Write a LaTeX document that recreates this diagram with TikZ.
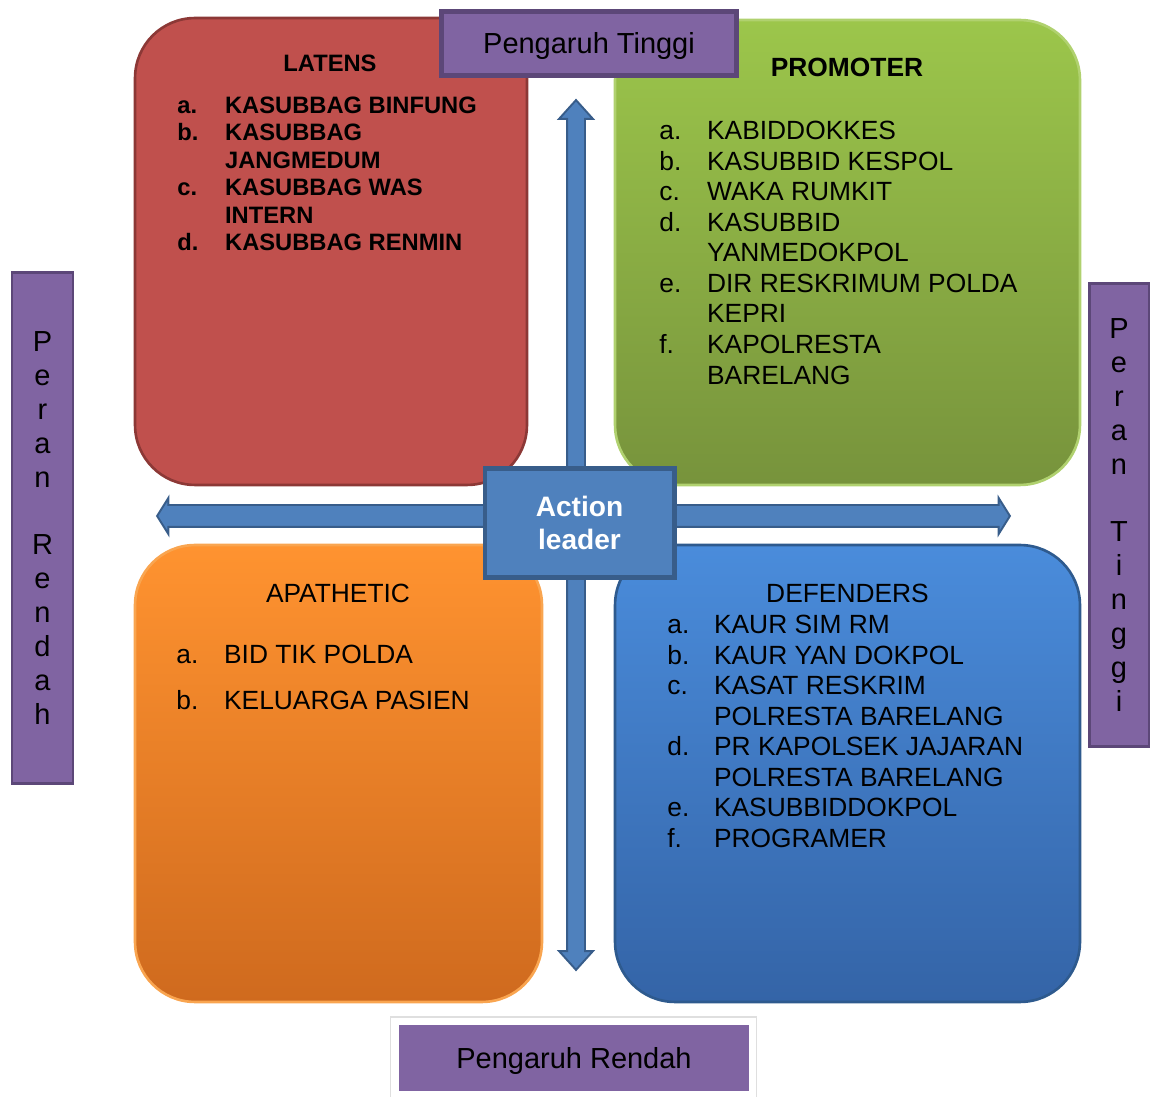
\documentclass[tikz,border=0pt]{standalone}
\usepackage{fontspec}
\setmainfont{Liberation Sans}
\usepackage{xcolor}
\usepackage{tikz}
\usetikzlibrary{shapes.arrows}

\definecolor{latensred}{HTML}{C0504D}
\definecolor{latensline}{HTML}{8C3836}
\definecolor{promtop}{HTML}{9CC64B}
\definecolor{prombot}{HTML}{77933C}
\definecolor{apatop}{HTML}{FF9330}
\definecolor{apabot}{HTML}{CF6A1E}
\definecolor{apaline}{HTML}{F9A550}
\definecolor{deftop}{HTML}{4A8CDB}
\definecolor{defbot}{HTML}{3464A7}
\definecolor{defline}{HTML}{2E5A8E}
\definecolor{tagpurple}{HTML}{8064A2}
\definecolor{tagline}{HTML}{5C4778}
\definecolor{leaderblue}{HTML}{4F81BD}
\definecolor{leaderline}{HTML}{385D8A}

\tikzset{
  quad/.style={rounded corners=1.2cm, line width=1.5pt, inner sep=0pt},
  tag/.style={fill=tagpurple, draw=tagline, line width=2.5pt, inner sep=0pt,
    font=\fontsize{16.5}{19.3}\selectfont},
  axis arrow/.style={double arrow, draw=leaderline, fill=leaderblue, line width=1.1pt, inner xsep=0pt},
  listbold/.style={anchor=base west, inner sep=0pt, font=\bfseries\fontsize{13.5}{15.65}\selectfont},
  listplain/.style={anchor=base west, inner sep=0pt, font=\fontsize{15}{17.4}\selectfont},
}

\begin{document}
\begin{tikzpicture}[x=0.02cm, y=-0.02cm]
    \useasboundingbox (0,0) rectangle (1150,1097);

    % quadrants
    \node[quad, fill=latensred, draw=latensline, minimum width=7.84cm, minimum height=9.34cm] (latens) at (331,251.5) {};
    \node[quad, top color=promtop, bottom color=prombot, draw=promtop!80!white, minimum width=9.3cm, minimum height=9.3cm] (promoter) at (847.5,252.5) {};
    \node[quad, top color=apatop, bottom color=apabot, draw=apaline, minimum width=8.14cm, minimum height=9.14cm] (apathetic) at (338.5,773.5) {};
    \node[quad, top color=deftop, bottom color=defbot, draw=defline, minimum width=9.3cm, minimum height=9.14cm] (defenders) at (847.5,773.5) {};

    % axes
    \node[axis arrow, rotate=90, inner ysep=0.16cm, minimum height=17.4cm, minimum width=0.64cm,
      double arrow head extend=0.16cm, double arrow tip angle=84] (vaxis) at (576,535) {};
    \node[axis arrow, inner ysep=0.2cm, minimum height=17.06cm, minimum width=0.68cm,
      double arrow head extend=0.14cm, double arrow tip angle=116] (haxis) at (583.5,516) {};

    \node[fill=leaderblue, draw=leaderline, line width=2.3pt, minimum width=3.8cm, minimum height=2.18cm,
      text=white, align=center, font=\bfseries\fontsize{16}{19.3}\selectfont] (leader) at (579.5,523) {Action\\leader};

    % titles
    \node[anchor=base, inner sep=0pt, font=\bfseries\fontsize{13.5}{15}\selectfont] (latenstitle) at (330,72) {LATENS};
    \node[anchor=base, inner sep=0pt, font=\bfseries\fontsize{15}{17}\selectfont] (promtitle) at (847,76.5) {PROMOTER};
    \node[anchor=base, inner sep=0pt, font=\fontsize{15}{17}\selectfont] (apatitle) at (338,602.5) {APATHETIC};
    \node[anchor=base, inner sep=0pt, font=\fontsize{15}{17}\selectfont] (deftitle) at (847.5,602.5) {DEFENDERS};

    % lists
    \node[listbold] (latenslist) at (177,113.5) {\begin{tabular}[t]{@{}p{27.2pt}@{}l@{}}
      a. & KASUBBAG BINFUNG\\
      b. & KASUBBAG\\
         & JANGMEDUM\\
      c. & KASUBBAG WAS\\
         & INTERN\\
      d. & KASUBBAG RENMIN
    \end{tabular}};
    \node[listplain] (promlist) at (659,139.5) {\begin{tabular}[t]{@{}p{27.2pt}@{}l@{}}
      a. & KABIDDOKKES\\
      b. & KASUBBID KESPOL\\
      c. & WAKA RUMKIT\\
      d. & KASUBBID\\
         & YANMEDOKPOL\\
      e. & DIR RESKRIMUM POLDA\\
         & KEPRI\\
      f. & KAPOLRESTA\\
         & BARELANG
    \end{tabular}};
    \node[listplain, font=\fontsize{15}{26.1}\selectfont] (apalist) at (176,663.5) {\begin{tabular}[t]{@{}p{27.2pt}@{}l@{}}
      a. & BID TIK POLDA\\
      b. & KELUARGA PASIEN
    \end{tabular}};
    \node[listplain] (deflist) at (667,633.5) {\begin{tabular}[t]{@{}p{26.6pt}@{}l@{}}
      a. & KAUR SIM RM\\
      b. & KAUR YAN DOKPOL\\
      c. & KASAT RESKRIM\\
         & POLRESTA BARELANG\\
      d. & PR KAPOLSEK JAJARAN\\
         & POLRESTA BARELANG\\
      e. & KASUBBIDDOKPOL\\
      f. & PROGRAMER
    \end{tabular}};

    % labels
    \node[tag, text height=11.8pt, text depth=0pt, minimum width=5.9cm, minimum height=1.28cm] (pengtinggi) at (589,43.5) {Pengaruh Tinggi};
    \node[draw=gray!25, fill=white, line width=0.6pt, minimum width=7.34cm, minimum height=1.8cm] (rendahframe) at (573.5,1062) {};
    \node[tag, draw=none, text height=11.8pt, text depth=0pt, minimum width=7cm, minimum height=1.32cm] (pengrendah) at (574,1058) {Pengaruh Rendah};
    \node[tag, line width=1.7pt, minimum width=1.22cm, minimum height=10.24cm, align=center] (peranrendah) at (42.5,528)
      {P\\e\\r\\a\\n\\[19.3pt]R\\e\\n\\d\\a\\h};
    \node[tag, line width=1.7pt, minimum width=1.2cm, minimum height=9.28cm, align=center] (perantinggi) at (1119,515)
      {P\\e\\r\\a\\n\\[19.3pt]T\\i\\n\\g\\g\\i};
\end{tikzpicture}
\end{document}
